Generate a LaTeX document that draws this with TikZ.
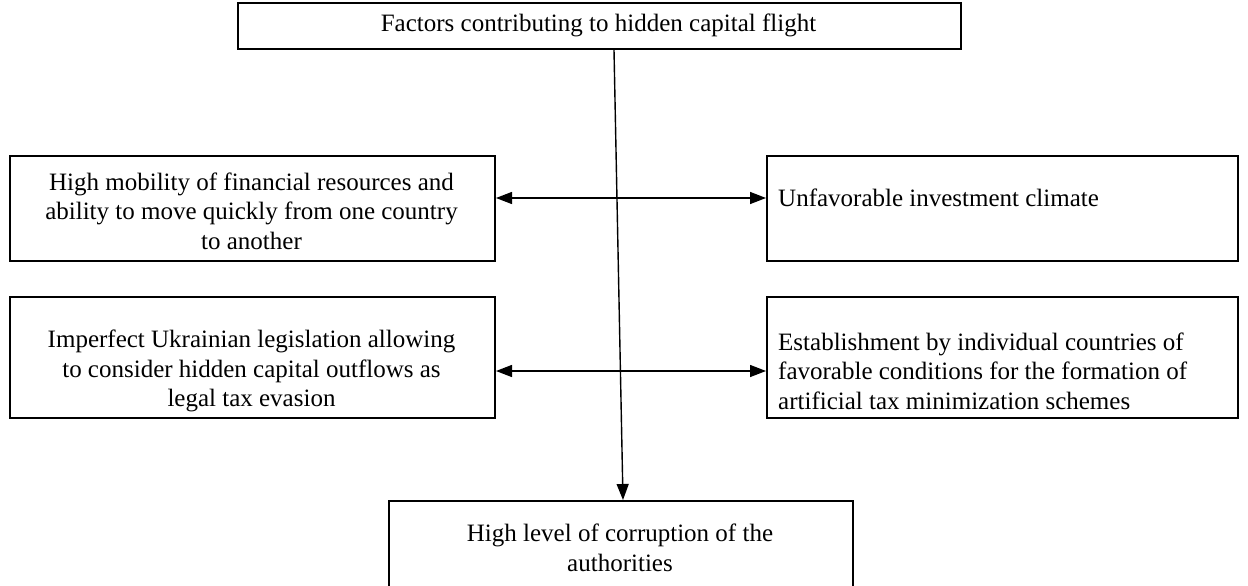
\documentclass[tikz,border=0pt]{standalone}
\usepackage{fontspec}
\setmainfont{Liberation Serif}
\usetikzlibrary{arrows.meta}
\begin{document}
\begin{tikzpicture}[x=1pt,y=-1pt,
  box/.style={draw, line width=2pt, inner sep=0pt, anchor=north west},
  txt/.style={font=\fontsize{25}{29.5}\selectfont, align=center, inner sep=0pt},
  conn/.style={line width=1.4pt, -{Triangle[length=16pt,width=12pt]}},
  dbl/.style={line width=1.4pt, {Triangle[length=16pt,width=12pt]}-{Triangle[length=16pt,width=12pt]}}]
\useasboundingbox (0,0) rectangle (1248,586);
% boxes
\node[box, minimum width=723pt, minimum height=46pt] (T) at (237,2) {};
\node[box, minimum width=485pt, minimum height=105pt] (L1) at (9,155) {};
\node[box, minimum width=471pt, minimum height=105pt] (R1) at (766,155) {};
\node[box, minimum width=485pt, minimum height=121pt] (L2) at (9,296) {};
\node[box, minimum width=471pt, minimum height=121pt] (R2) at (766,296) {};
\node[box, minimum width=464pt, minimum height=120pt] (B) at (388,500) {};
% texts
\node[txt] (tT) at (598.5,25) {Factors contributing to hidden capital flight};
\node[txt] (tL1) at (251.5,211) {High mobility of financial resources and\\ability to move quickly from one country\\to another};
\node[txt, anchor=west] (tR1) at (778,198) {Unfavorable investment climate};
\node[txt] (tL2) at (251.5,371) {Imperfect Ukrainian legislation allowing\\to consider hidden capital outflows as\\legal tax evasion};
\node[txt, anchor=west, align=left] (tR2) at (778,371) {Establishment by individual countries of\\favorable conditions for the formation of\\artificial tax minimization schemes};
\node[txt] (tB) at (620,548) {High level of corruption of the\\authorities};
% connectors
\coordinate (a1) at (620,198);
\coordinate (a2) at (620,371);
\draw[dbl] (L1.east |- a1) -- (R1.west |- a1);
\draw[dbl] (L2.east |- a2) -- (R2.west |- a2);
\draw[conn] ([xshift=14.5pt]T.south) -- ([xshift=2pt]B.north);
\end{tikzpicture}
\end{document}
